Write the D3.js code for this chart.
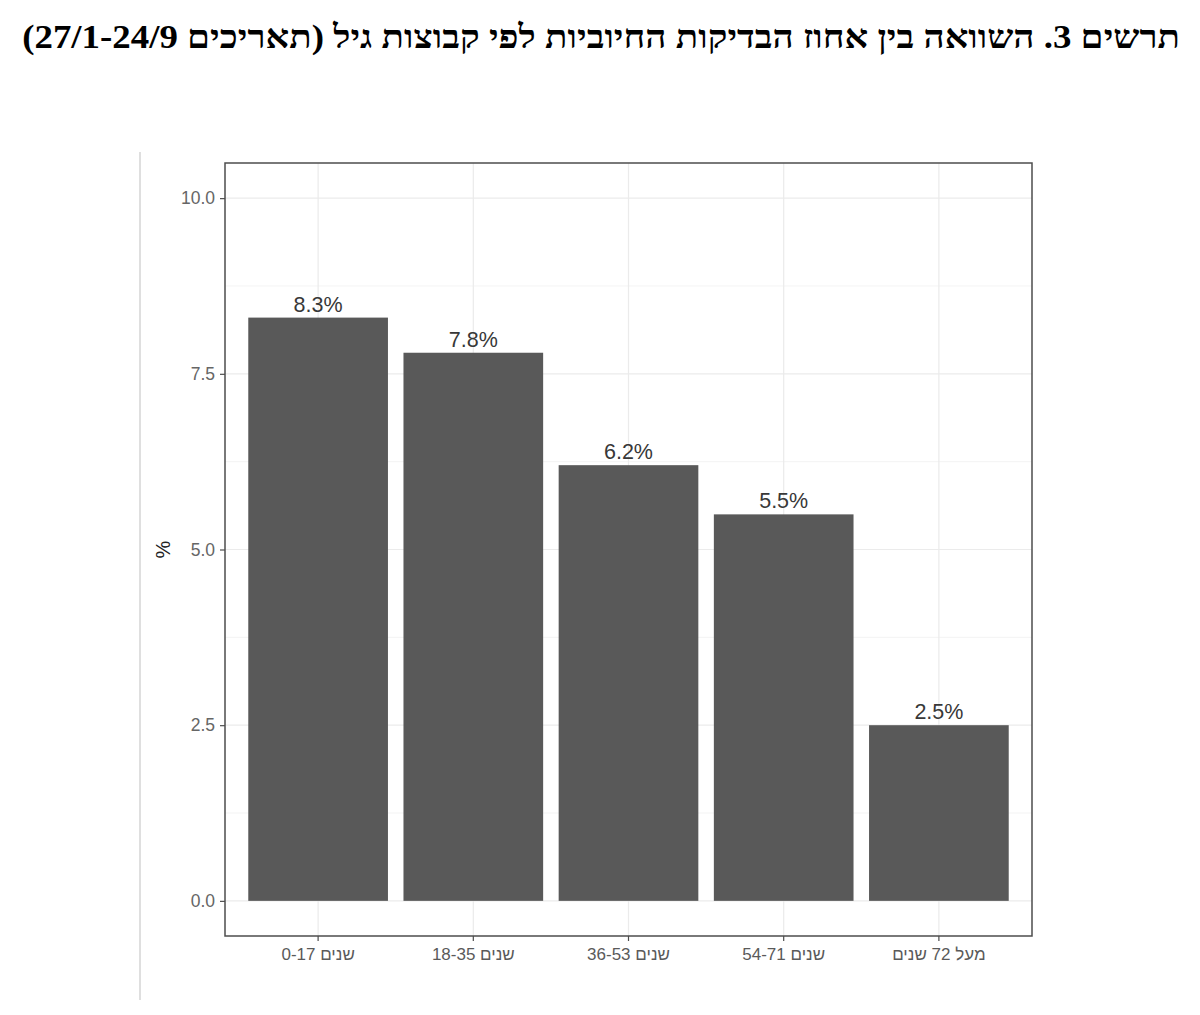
<!DOCTYPE html>
<html>
<head>
<meta charset="utf-8">
<script src="https://cdn.jsdelivr.net/npm/d3@7"></script>
<style>
  html, body { margin: 0; padding: 0; background: #fff; }
  svg { display: block; }
</style>
</head>
<body>
<svg id="chart" width="1200" height="1015"></svg>
<script>
// ---- data ----
const categories = ["שנים 0-17", "שנים 18-35", "שנים 36-53", "שנים 54-71", "מעל 72 שנים"];
const values = [8.3, 7.8, 6.2, 5.5, 2.5];
const yTicks = [0, 2.5, 5, 7.5, 10];
const yMinor = [1.25, 3.75, 6.25, 8.75];
const titleText = "תרשים 3. השוואה בין אחוז הבדיקות החיוביות לפי קבוצות גיל (תאריכים 27/1-24/9)";
const yAxisTitle = "%";

// ---- layout ----
const svg = d3.select("#chart");
const panel = { left: 225, right: 1032, top: 163, bottom: 936 };

const y = d3.scaleLinear().domain([-0.5, 10.5]).range([panel.bottom, panel.top]);
const x = d3.scaleBand().domain(categories)
  .range([panel.left, panel.right]).paddingInner(0.1).paddingOuter(0.15);

// left separator line
svg.append("line").attr("x1", 140).attr("x2", 140).attr("y1", 152).attr("y2", 1000)
  .attr("stroke", "#d4d4d4").attr("stroke-width", 1.5);

// title
const titleRight = 1180, titleLeft = 22;
const title = svg.append("text")
  .attr("x", titleRight).attr("y", 48)
  .attr("direction", "rtl")
  .style("direction", "rtl")
  .style("unicode-bidi", "embed")
  .attr("text-anchor", "start")
  .attr("font-family", "'Liberation Serif', 'DejaVu Serif', serif")
  .attr("font-weight", "bold")
  .attr("font-size", 33)
  .attr("fill", "#000")
  .text(titleText);
const tw = title.node().getComputedTextLength();
const sx = (titleRight - titleLeft) / tw;
title.attr("transform", `translate(${titleRight},0) scale(${sx},1) translate(${-titleRight},0)`);

// grid
const g = svg.append("g");
g.selectAll("line.minor").data(yMinor).join("line")
  .attr("x1", panel.left).attr("x2", panel.right)
  .attr("y1", d => y(d)).attr("y2", d => y(d))
  .attr("stroke", "#f0f0f0").attr("stroke-width", 0.8);
g.selectAll("line.major").data(yTicks).join("line")
  .attr("x1", panel.left).attr("x2", panel.right)
  .attr("y1", d => y(d)).attr("y2", d => y(d))
  .attr("stroke", "#ebebeb").attr("stroke-width", 1.2);
g.selectAll("line.vmajor").data(categories).join("line")
  .attr("x1", d => x(d) + x.bandwidth() / 2).attr("x2", d => x(d) + x.bandwidth() / 2)
  .attr("y1", panel.top).attr("y2", panel.bottom)
  .attr("stroke", "#ebebeb").attr("stroke-width", 1.2);

// bars
svg.append("g").selectAll("rect").data(values).join("rect")
  .attr("x", (d, i) => x(categories[i]))
  .attr("width", x.bandwidth())
  .attr("y", d => y(d))
  .attr("height", d => y(0) - y(d))
  .attr("fill", "#595959");

// bar labels
svg.append("g").selectAll("text").data(values).join("text")
  .attr("x", (d, i) => x(categories[i]) + x.bandwidth() / 2)
  .attr("y", d => y(d) - 6)
  .attr("text-anchor", "middle")
  .attr("font-family", "'Liberation Sans', Arial, sans-serif")
  .attr("font-size", 21.5)
  .attr("fill", "#383838")
  .text(d => d.toFixed(1) + "%");

// panel border
svg.append("rect")
  .attr("x", panel.left).attr("y", panel.top)
  .attr("width", panel.right - panel.left).attr("height", panel.bottom - panel.top)
  .attr("fill", "none").attr("stroke", "#4d4d4d").attr("stroke-width", 1.5);

// y axis
const yAxis = d3.axisLeft(y).tickValues(yTicks).tickSize(5).tickPadding(5)
  .tickFormat(d3.format(".1f"));
const ya = svg.append("g").attr("transform", `translate(${panel.left},0)`).call(yAxis);
ya.select(".domain").remove();
ya.selectAll("line").attr("stroke", "#4d4d4d").attr("stroke-width", 1.2);
ya.selectAll("text").attr("font-family", "'Liberation Sans', Arial, sans-serif")
  .attr("font-size", 17.5).attr("fill", "#666");

// x axis
const xAxis = d3.axisBottom(x).tickSize(5).tickPadding(7);
const xa = svg.append("g").attr("transform", `translate(0,${panel.bottom})`).call(xAxis);
xa.select(".domain").remove();
xa.selectAll("line").attr("stroke", "#4d4d4d").attr("stroke-width", 1.2);
xa.selectAll("text").attr("font-family", "'Liberation Sans', Arial, sans-serif")
  .attr("font-size", 17).attr("fill", "#5a5a5a").attr("direction", "rtl");

// y title
svg.append("text")
  .attr("transform", `translate(170,${y(5)}) rotate(-90)`)
  .attr("text-anchor", "middle")
  .attr("font-family", "'Liberation Sans', Arial, sans-serif")
  .attr("font-size", 20)
  .attr("fill", "#222")
  .text(yAxisTitle);
</script>
</body>
</html>
